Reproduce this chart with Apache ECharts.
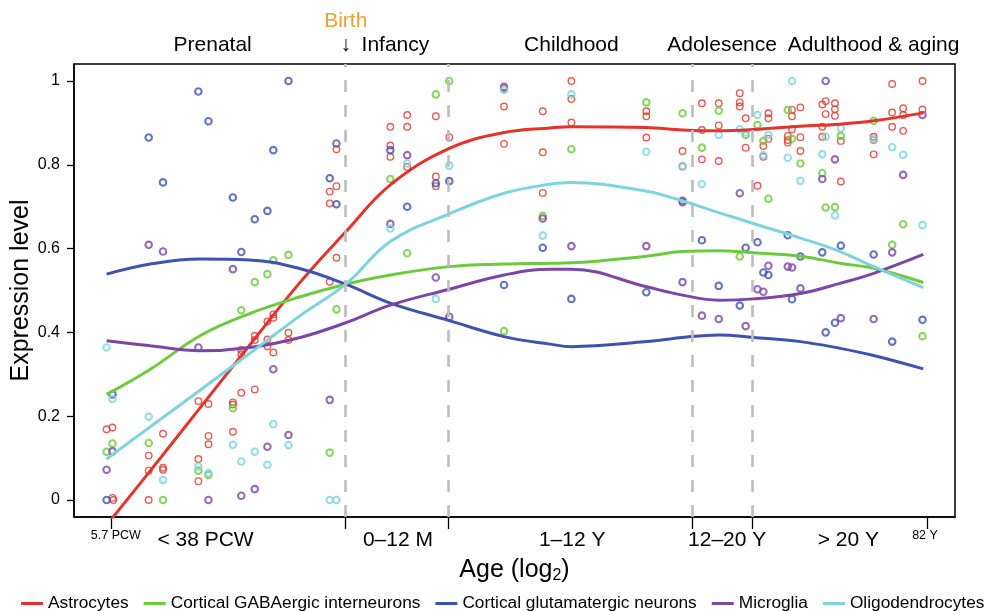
<!DOCTYPE html>
<html><head><meta charset="utf-8">
<script src="https://cdn.jsdelivr.net/npm/echarts@6/dist/echarts.min.js"></script>
<style>html,body{margin:0;padding:0;background:#fff}#c{width:992px;height:611px}</style>
</head><body><div id="c"></div>
<script>
// x values are log2(days post conception)
const xTicks = [5.27, 8.06, 9.28, 12.18, 12.89, 14.97];
const stageLines = [8.06, 9.28, 12.18, 12.89];
const bottomLabelPos = [5.33, 6.395, 8.68, 10.75, 12.59, 14.03, 14.94];
const bottomLabelText = ['5.7 PCW', '< 38 PCW', '0–12 M', '1–12 Y', '12–20 Y', '> 20 Y', '82 Y'];
const topLabelPos = [6.48, 8.06, 8.65, 10.74, 12.53, 14.33];
const topLabelText = ['Prenatal', 'Birth', 'Infancy', 'Childhood', 'Adolesence', 'Adulthood & aging'];
const yTicks = [0, 0.2, 0.4, 0.6, 0.8, 1];

const names = ['Astrocytes', 'Cortical GABAergic interneurons', 'Cortical glutamatergic neurons', 'Microglia', 'Oligodendrocytes'];
const colors = ['#e5322a', '#6dca3e', '#4052b0', '#7a47a6', '#7dd4dc'];

// fitted curves
const curveX = [5.22, 5.74, 6.33, 6.92, 7.52, 8.06, 8.59, 9.29, 9.94, 10.49, 10.74, 11.63, 12.06, 12.49, 12.90, 13.46, 13.93, 14.33, 14.92];
const astroCurve = [-0.06, 0.07, 0.22, 0.37, 0.52, 0.64, 0.752, 0.839, 0.877, 0.888, 0.891, 0.889, 0.883, 0.881, 0.884, 0.892, 0.897, 0.905, 0.924];
const gabaCurve  = [0.252, 0.312, 0.392, 0.445, 0.485, 0.515, 0.537, 0.557, 0.563, 0.565, 0.566, 0.582, 0.593, 0.595, 0.590, 0.582, 0.565, 0.553, 0.519];
const glutCurve  = [0.539, 0.563, 0.575, 0.573, 0.552, 0.515, 0.470, 0.428, 0.390, 0.372, 0.366, 0.378, 0.388, 0.394, 0.388, 0.378, 0.362, 0.345, 0.313];
const microCurve = [0.380, 0.368, 0.356, 0.364, 0.388, 0.423, 0.465, 0.503, 0.537, 0.551, 0.551, 0.509, 0.489, 0.477, 0.480, 0.493, 0.517, 0.541, 0.586];
const oligoCurve = [0.098, 0.175, 0.262, 0.350, 0.440, 0.515, 0.617, 0.683, 0.732, 0.754, 0.758, 0.737, 0.714, 0.686, 0.660, 0.625, 0.593, 0.557, 0.507];

// sample points [x, y]
const astroPts = [[5.22,0.169],[5.29,0.173],[5.29,0.005],[5.30,0.0],[5.72,0.106],[5.72,0.070],[5.72,0.0],
 [5.89,0.158],[5.89,0.077],[5.89,0.072],[6.31,0.236],[6.31,0.098],[6.31,0.045],[6.43,0.229],[6.43,0.153],[6.43,0.133],
 [6.72,0.233],[6.72,0.228],[6.72,0.163],[6.82,0.358],[6.82,0.348],[6.82,0.256],[6.98,0.392],[6.98,0.382],[6.98,0.264],
 [7.13,0.426],[7.13,0.383],[7.13,0.367],[7.20,0.443],[7.20,0.435],[7.20,0.352],[7.38,0.399],[7.38,0.382],
 [7.87,0.736],[7.87,0.708],[7.87,0.521],[7.95,0.837],[7.95,0.749],[7.95,0.578],[8.59,0.891],[8.59,0.846],[8.59,0.819],
 [8.79,0.919],[8.79,0.891],[8.79,0.795],[9.13,0.916],[9.13,0.772],[9.13,0.749],[9.29,0.866],[9.94,0.982],[9.94,0.939],[9.94,0.850],
 [10.40,0.928],[10.40,0.830],[10.40,0.733],[10.74,1.0],[10.74,0.957],[10.74,0.901],[11.63,0.928],[11.63,0.916],[11.63,0.865],
 [12.06,0.833],[12.06,0.796],[12.06,0.710],[12.29,0.947],[12.29,0.883],[12.29,0.813],[12.49,0.947],[12.49,0.894],[12.49,0.809],
 [12.74,0.971],[12.74,0.949],[12.74,0.939],[12.81,0.911],[12.81,0.841],[12.95,0.750],[13.02,0.845],[13.02,0.819],
 [13.08,0.923],[13.08,0.911],[13.08,0.862],[13.31,0.869],[13.31,0.859],[13.31,0.853],[13.36,0.931],[13.36,0.916],[13.36,0.885],
 [13.46,0.937],[13.46,0.866],[13.46,0.833],[13.72,0.944],[13.72,0.891],[13.72,0.867],[13.76,0.952],[13.76,0.921],
 [13.87,0.947],[13.87,0.933],[13.87,0.917],[13.94,0.857],[13.94,0.760],[14.33,0.867],[14.33,0.859],[14.33,0.825],
 [14.55,0.993],[14.55,0.925],[14.55,0.891],[14.68,0.935],[14.68,0.919],[14.68,0.881],[14.91,1.0],[14.91,0.932]];
const gabaPts = [[5.22,0.115],[5.29,0.135],[5.72,0.136],[5.89,0.0],[6.31,0.070],[6.43,0.060],[6.72,0.219],[6.82,0.453],
 [6.98,0.520],[7.13,0.539],[7.20,0.572],[7.38,0.585],[7.87,0.113],[7.95,0.455],[8.59,0.766],[8.79,0.589],[9.13,0.968],
 [9.29,1.0],[9.94,0.403],[10.40,0.678],[10.74,0.837],[11.63,0.949],[12.06,0.923],[12.29,0.841],[12.49,0.929],[12.74,0.581],
 [12.81,0.871],[12.95,0.895],[13.02,0.857],[13.08,0.719],[13.31,0.931],[13.36,0.862],[13.46,0.803],[13.72,0.780],
 [13.76,0.698],[13.87,0.699],[13.94,0.869],[14.33,0.905],[14.55,0.609],[14.68,0.658],[14.91,0.391]];
const glutPts = [[5.22,0.0],[5.29,0.252],[5.72,0.865],[5.89,0.758],[6.31,0.975],[6.43,0.904],[6.72,0.722],[6.82,0.592],
 [6.98,0.670],[7.13,0.690],[7.20,0.835],[7.38,1.0],[7.87,0.768],[7.95,0.706],[8.59,0.835],[8.79,0.700],[9.13,0.756],
 [9.29,0.761],[9.94,0.513],[10.40,0.602],[10.74,0.480],[11.63,0.496],[12.06,0.714],[12.29,0.620],[12.49,0.511],
 [12.74,0.464],[12.81,0.602],[12.95,0.615],[13.02,0.543],[13.08,0.537],[13.31,0.632],[13.36,0.479],[13.46,0.581],
 [13.72,0.591],[13.76,0.400],[13.87,0.423],[13.94,0.607],[14.33,0.586],[14.55,0.378],[14.91,0.430]];
const microPts = [[5.22,0.072],[5.29,0.116],[5.72,0.609],[5.89,0.593],[6.31,0.364],[6.43,0.0],[6.72,0.551],[6.82,0.010],
 [6.98,0.026],[7.13,0.127],[7.20,0.312],[7.38,0.155],[7.87,0.239],[7.95,0.851],[8.59,0.659],[8.79,0.823],[9.13,0.531],
 [9.29,0.437],[9.94,0.986],[10.40,0.672],[10.74,0.606],[11.63,0.606],[12.06,0.520],[12.29,0.440],[12.49,0.432],
 [12.74,0.732],[12.81,0.415],[12.95,0.503],[13.02,0.497],[13.08,0.559],[13.31,0.557],[13.36,0.555],[13.46,0.505],
 [13.72,0.766],[13.76,1.0],[13.87,0.813],[13.94,0.434],[14.33,0.432],[14.55,0.591],[14.68,0.776],[14.91,0.919]];
const oligoPts = [[5.22,0.364],[5.29,0.241],[5.72,0.199],[5.89,0.048],[6.31,0.080],[6.43,0.064],[6.72,0.132],[6.82,0.092],
 [6.98,0.115],[7.13,0.084],[7.20,0.181],[7.38,0.131],[7.87,0.0],[7.95,0.0],[8.59,0.648],[8.79,0.803],[9.13,0.480],
 [9.29,0.798],[9.94,0.979],[10.40,0.631],[10.74,0.968],[11.63,0.831],[12.06,0.797],[12.29,0.754],[12.49,0.871],
 [12.74,0.885],[12.81,0.877],[12.95,0.919],[13.02,0.823],[13.08,0.871],[13.31,0.817],[13.36,1.0],[13.46,0.762],
 [13.72,0.825],[13.76,0.867],[13.87,0.679],[13.94,0.887],[14.33,0.861],[14.55,0.842],[14.68,0.824],[14.91,0.656]];

const curves = [astroCurve, gabaCurve, glutCurve, microCurve, oligoCurve];
const pts = [astroPts, gabaPts, glutPts, microPts, oligoPts];

const FONT = '"Liberation Sans", Arial, Helvetica, sans-serif';
const X_MIN = 4.833, X_MAX = 15.296, Y_MIN = -0.0406, Y_MAX = 1.0406;

function nearestIdx(arr, v) {
  let b = 0; for (let i = 1; i < arr.length; i++) if (Math.abs(arr[i] - v) < Math.abs(arr[b] - v)) b = i; return b;
}

const series = [];
pts.forEach((p, i) => {
  series.push({
    name: names[i] + ' samples', type: 'scatter', data: p, symbol: 'circle', symbolSize: 6.5, z: 2,
    itemStyle: { color: 'rgba(0,0,0,0)', borderColor: colors[i], borderWidth: i === 0 ? 1.4 : 2.1 },
    emphasis: { disabled: true }, silent: true
  });
});
curves.forEach((c, i) => {
  series.push({
    name: names[i], type: 'line', data: curveX.map((x, k) => [x, c[k]]), smooth: 0.4, showSymbol: false, z: 4,
    color: colors[i], lineStyle: { color: colors[i], width: 3 }, clip: true, silent: true
  });
});
series.push({
  type: 'line', data: [], silent: true, z: 1,
  markLine: {
    silent: true, symbol: ['none', 'none'], label: { show: false },
    lineStyle: { color: '#bdbdbd', width: 2.6, type: [12, 13] },
    data: stageLines.map(v => ({ xAxis: v }))
  }
});

const option = {
  animation: false,
  textStyle: { fontFamily: FONT },
  grid: { left: 74, right: 37, top: 64, bottom: 94, show: true, borderColor: '#000', borderWidth: 1.5, containLabel: false, outerBoundsMode: 'none' },
  xAxis: [{
    type: 'value', min: X_MIN, max: X_MAX, position: 'bottom',
    axisLine: { show: true, onZero: false, lineStyle: { color: '#000', width: 1.5 } },
    axisTick: { show: true, customValues: xTicks, length: 12, lineStyle: { color: '#000', width: 1.3 } },
    axisLabel: {
      customValues: bottomLabelPos, margin: 12, color: '#000',
      formatter: v => { const i = nearestIdx(bottomLabelPos, v); const t = bottomLabelText[i]; return (i === 0 || i === bottomLabelText.length - 1) ? '{s|' + t + '}' : '{b|' + t + '}'; },
      rich: { s: { fontSize: 12.5, lineHeight: 13, color: '#000', fontFamily: FONT }, b: { fontSize: 21, lineHeight: 23, color: '#000', fontFamily: FONT } }
    },
    splitLine: { show: false },
    name: 'Age (log{sub|2})', nameLocation: 'middle', nameGap: 36,
    nameTextStyle: { fontSize: 25, color: '#000', lineHeight: 28, fontFamily: FONT, rich: { sub: { fontSize: 16, lineHeight: 16, verticalAlign: 'bottom', color: '#000', fontFamily: FONT } } }
  }, {
    type: 'value', min: X_MIN, max: X_MAX, position: 'top',
    axisLine: { show: false }, axisTick: { show: false }, splitLine: { show: false },
    axisLabel: {
      customValues: topLabelPos, margin: 7, color: '#000',
      formatter: v => { const i = nearestIdx(topLabelPos, v); return i === 1 ? '{o|Birth}\n{a|↓}' : '{a|' + topLabelText[i] + '}'; },
      rich: { a: { fontSize: 21, lineHeight: 24, color: '#000', fontFamily: FONT }, o: { fontSize: 21, lineHeight: 24, color: '#eea236', fontFamily: FONT } }
    }
  }],
  yAxis: {
    type: 'value', min: Y_MIN, max: Y_MAX,
    axisLine: { show: true, onZero: false, lineStyle: { color: '#000', width: 1.5 } },
    axisTick: { show: true, customValues: yTicks, length: 7, lineStyle: { color: '#000', width: 1.3 } },
    axisLabel: { customValues: yTicks, margin: 14, fontSize: 16, color: '#000', fontFamily: FONT },
    splitLine: { show: false },
    name: 'Expression level', nameLocation: 'middle', nameGap: 40, nameMoveOverlap: false,
    nameTextStyle: { fontSize: 25, color: '#000', fontFamily: FONT }
  },
  legend: {
    data: names, top: 590, left: 16, width: 1200, itemWidth: 22, itemHeight: 3, itemGap: 15, icon: 'rect',
    textStyle: { fontSize: 17.3, color: '#000', fontFamily: FONT }, selectedMode: false
  },
  series
};
echarts.init(document.getElementById('c'), null, { renderer: 'canvas' }).setOption(option);
</script></body></html>
